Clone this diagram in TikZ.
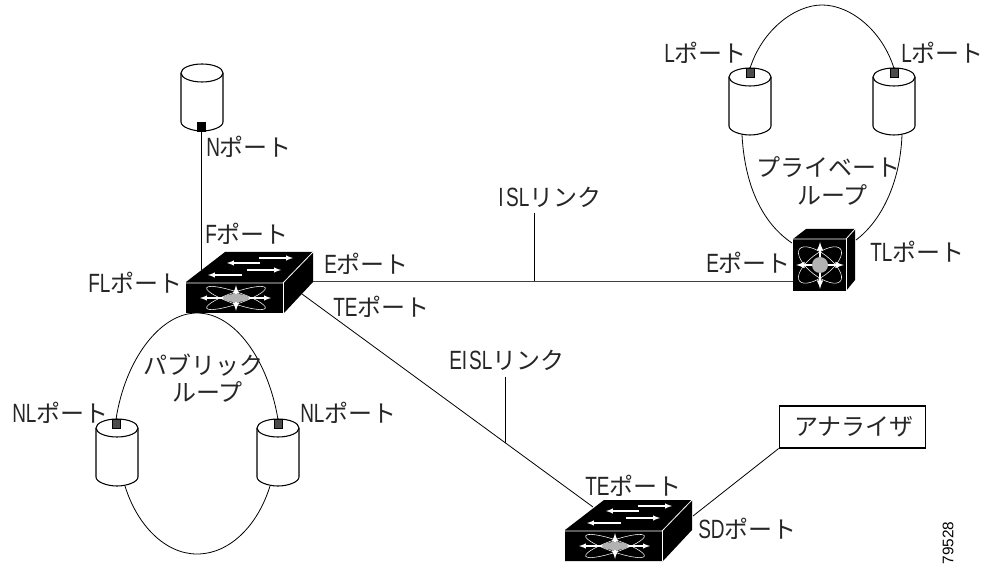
\documentclass[tikz,border=0pt]{standalone}
\usepackage{fontspec}
\newfontfamily\jpfont{Noto Sans CJK JP}
\newfontfamily\latfont[FakeStretch=0.72,Scale=1.1]{Liberation Sans}
\newfontfamily\numfont{Liberation Sans}
\newcommand{\lat}[1]{{\latfont #1}}
\usetikzlibrary{arrows}

\tikzset{
    disk/.pic={
        \draw[thick, fill=white] (-21,9) -- (-21,58) .. controls (-21,63) and (-10,67) .. (0,67)
            .. controls (10,67) and (21,63) .. (21,58) -- (21,9);
        \draw[thick, fill=white] (0,9) ellipse (21 and 9);
        \coordinate (-l) at (-8,67);
        \coordinate (-r) at (8,67);
    },
    bigswitch/.pic={
        \fill[black] (0,0) -- (39,-30) -- (127,-30) -- (127,0) -- (98,31) -- (0,31) -- cycle;
        \draw[white, semithick] (0,1) -- (97,1) -- (127,-30);
        \draw[white, semithick] (97,1) -- (97,31);
        % arrows on the top
        \draw[arrow1] (74,-19) -- (41,-19);
        \draw[arrow1] (73,-24) -- (107,-24);
        \draw[arrow1] (56,-7) -- (22,-7);
        \draw[arrow1] (61,-12) -- (95,-12);
        % front
        \draw[white, thin, rotate around={19:(50,16)}] (50,16) ellipse (31 and 6);
        \draw[white, thin, rotate around={-19:(50,16)}] (50,16) ellipse (31 and 6);
        \draw[arrow1] (50,16) -- (14,16);
        \draw[arrow1] (50,16) -- (85,16);
        \draw[arrow1, very thick] (50,16) -- (50,3);
        \draw[arrow1, very thick] (50,16) -- (50,29);
        \fill[black!30] (50,16) ellipse (13 and 4);
    },
    arrow1/.style={-latex, white, thick},
    line1/.style={draw, semithick},
    label1/.style={font=\jpfont\fontsize{18pt}{20pt}\selectfont, anchor=west, inner sep=0pt, text=black!85},
    portbox/.style={draw=black, fill=black!70, minimum width=6pt, minimum height=6.5pt, inner sep=0pt},
}

\begin{document}
\begin{tikzpicture}[x=0.75pt, y=-0.75pt]
\useasboundingbox (0,0) rectangle (984,566);

% lines behind the devices
\pic (d1) at (202,64) {disk};
\pic (d2) at (750,68) {disk};
\pic (d3) at (894,68) {disk};
\pic (d4) at (117,419) {disk};
\pic (d5) at (278,419) {disk};

\node[portbox, fill=black] (p1) at (201,127) {};
\node[portbox] (p2) at (750,73) {};
\node[portbox] (p3) at (894,73) {};
\node[portbox] (p4) at (116,424) {};
\node[portbox] (p5) at (278,424) {};

% named ends of the links
\coordinate (fltop) at (201,270);
\coordinate (fle) at (313,281);
\coordinate (tle) at (793,281);
\coordinate (flte) at (302,294);
\coordinate (sdte) at (593,507);
\coordinate (sdp) at (693,516);
\coordinate (isl) at (534,281);
\coordinate (islt) at (534,213);
\coordinate (eisl) at (505,442.5);
\coordinate (eislt) at (505,377);

\draw[line1] (p1) -- (fltop);
\draw[line1, black!75] (fle) -- (tle);
\draw[line1] (flte) -- (sdte);
\draw[line1] (isl) -- (islt);
\draw[line1] (eisl) -- (eislt);

% private loop
\draw[line1] (p2.north) .. controls (762,30) and (795,5) .. (822,5) .. controls (850,5) and (882,30) .. (p3.north);
\draw[line1] (d2-l) .. controls (745,190) and (765,225) .. (792,243);
\draw[line1] (d3-r) .. controls (900,185) and (880,222) .. (856,240);

% public loop
\draw[line1] (p4.north) .. controls (125,360) and (160,313) .. (197,313) .. controls (235,313) and (268,360) .. (p5.north);
\draw[line1] (d4-r) .. controls (137,525) and (165,554) .. (197,554) .. controls (230,554) and (258,525) .. (d5-l);

\pic (sw1) at (186,282) {bigswitch};
\pic (sw2) at (565,530) {bigswitch};

% small switch
\fill[black] (793,239) -- (806,229) -- (855,229) -- (855,280) -- (846,291) -- (793,291) -- cycle;
\draw[white, semithick] (793,239) -- (846,239) -- (855,229);
\draw[white, semithick] (846,239) -- (846,291);
\draw[white, thin, rotate around={38:(820,265)}] (820,265) ellipse (26 and 11);
\draw[white, thin, rotate around={-38:(820,265)}] (820,265) ellipse (26 and 11);
\draw[arrow1, very thick] (820,265) -- (796,265);
\draw[arrow1, very thick] (820,265) -- (844,265);
\draw[arrow1, very thick] (820,265) -- (820,242);
\draw[arrow1, very thick] (820,265) -- (820,289);
\fill[black!30] (820,265) circle (8);

% analyzer
\node[draw, thick, minimum width=110pt, minimum height=31.5pt, inner sep=0pt] (ana) at (852.5,427) {};
\node[label1, anchor=center] (analbl) at (854,427) {アナライザ};
\draw[line1] (ana.south west) -- (sdp);

\node[label1] (l1) at (206,147) {\lat{N}ポート};
\node[label1] (l2) at (205,234) {\lat{F}ポート};
\node[label1] (l3) at (88,283) {\lat{FL}ポート};
\node[label1] (l4) at (324,264) {\lat{E}ポート};
\node[label1] (l5) at (333,307) {\lat{TE}ポート};
\node[label1] (l6) at (498,197) {\lat{I\kern2pt SL}リンク};
\node[label1] (l7) at (449,360) {\lat{EI\kern1.5pt SL}リンク};
\node[label1] (l8) at (664,53) {\lat{L}ポート};
\node[label1] (l9) at (901,53) {\lat{L}ポート};
\node[label1] (l10) at (756,167) {プライベート};
\node[label1] (l11) at (797,195) {ループ};
\node[label1] (l12) at (706,263) {\lat{E}ポート};
\node[label1] (l13) at (870,252) {\lat{TL}ポート};
\node[label1] (l14) at (143,365) {パブリック};
\node[label1] (l15) at (172,392) {ループ};
\node[label1] (l16) at (12,413) {\lat{NL}ポート};
\node[label1] (l17) at (300,413) {\lat{NL}ポート};
\node[label1] (l18) at (585,486) {\lat{TE}ポート};
\node[label1] (l19) at (698,529) {\lat{SD}ポート};
\node[font=\numfont\fontsize{11.5pt}{13pt}\selectfont, rotate=90, inner sep=0pt] (num) at (948,543) {79528};
\end{tikzpicture}
\end{document}
